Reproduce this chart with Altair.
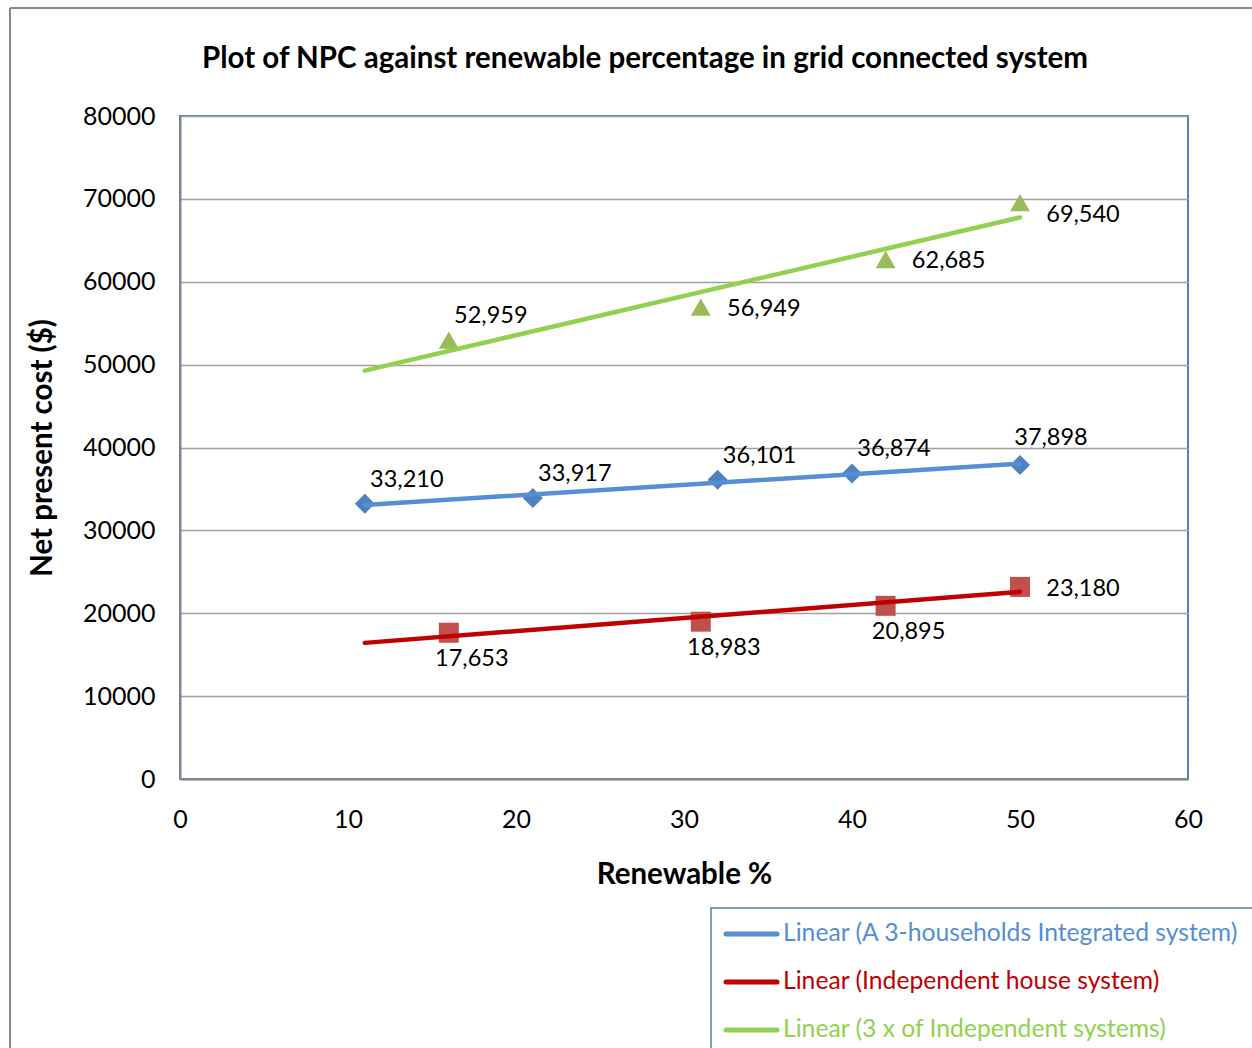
import altair as alt
import pandas as pd

# ---------------- data ----------------
series_names = [
    "A 3-households Integrated system",
    "Independent house system",
    "3 x of Independent systems",
]
integrated_x = [11, 21, 32, 40, 50]
integrated_npc = [33210, 33917, 36101, 36874, 37898]
independent_x = [16, 31, 42, 50]
independent_npc = [17653, 18983, 20895, 23180]
triple_x = [16, 31, 42, 50]
triple_npc = [52959, 56949, 62685, 69540]

x_ticks = [0, 10, 20, 30, 40, 50, 60]
y_ticks = [0, 10000, 20000, 30000, 40000, 50000, 60000, 70000, 80000]
trend_extent = [11, 50]

# ---------------- style ----------------
FONT = "Lato"
marker_colors = ["#4F81BD", "#C0504D", "#9BBB59"]
trend_colors = ["#558ED5", "#C00000", "#92D050"]
marker_shapes = ["diamond", "square", "triangle-up"]
marker_sizes = [400, 400, 400]
# label placement per point (style, not data)
label_places = [
    ["ur", "ur", "ur", "ur", "up"],
    ["below", "below", "below", "right"],
    ["ur", "right", "right", "rlow"],
]
place_offsets = {
    "ur": (42, -24),
    "up": (31, -27),
    "below": (23, 26),
    "right": (63, 2),
    "rlow": (63, 12),
}

rows = []
for name, xs, ys, places in zip(
    series_names,
    [integrated_x, independent_x, triple_x],
    [integrated_npc, independent_npc, triple_npc],
    label_places,
):
    for x, y, p in zip(xs, ys, places):
        rows.append({"series": name, "renew": x, "npc": y, "place": p})
df = pd.DataFrame(rows)

W, H = 1008, 663

x_enc = alt.X(
    "renew:Q",
    scale=alt.Scale(domain=[0, 60], nice=False),
    axis=alt.Axis(
        values=x_ticks, title="Renewable %", grid=False, ticks=False,
        labelFlush=False, labelPadding=28, titleY=95, titleBaseline="middle",
    ),
)
y_enc = alt.Y(
    "npc:Q",
    scale=alt.Scale(domain=[0, 80000], nice=False),
    axis=alt.Axis(
        values=y_ticks, title="Net present cost ($)", grid=True, ticks=False,
        format="d", labelPadding=25, titleX=-138, titleBaseline="middle",
    ),
)

base = alt.Chart(df)
layers = []

# markers
for i, name in enumerate(series_names):
    layers.append(
        base.transform_filter(alt.datum.series == name)
        .mark_point(shape=marker_shapes[i], filled=True, opacity=1,
                    size=marker_sizes[i], color=marker_colors[i], strokeWidth=0)
        .encode(x=x_enc, y=y_enc)
    )

# trend lines (linear regression)
for i, name in enumerate(series_names):
    layers.append(
        base.transform_filter(alt.datum.series == name)
        .transform_regression("renew", "npc", method="linear", extent=trend_extent)
        .mark_line(color=trend_colors[i], strokeWidth=4.5, strokeCap="round")
        .encode(x="renew:Q", y="npc:Q")
    )

# data labels
for i, name in enumerate(series_names):
    for place, (ddx, ddy) in place_offsets.items():
        if place not in label_places[i]:
            continue
        layers.append(
            base.transform_filter((alt.datum.series == name) & (alt.datum.place == place))
            .mark_text(font=FONT, fontSize=23.5, color="#000000", dx=ddx, dy=ddy,
                       align="center", baseline="middle")
            .encode(x="renew:Q", y="npc:Q", text=alt.Text("npc:Q", format=",d"))
        )

one = alt.Chart(pd.DataFrame({"k": [0]}))

# outer chart border (cropped at right/bottom)
layers.append(one.mark_rule(color="#868686", strokeWidth=2).encode(
    x=alt.value(-170), y=alt.value(-108), y2=alt.value(H + 300)))
layers.append(one.mark_rule(color="#868686", strokeWidth=2).encode(
    x=alt.value(-170), x2=alt.value(W + 300), y=alt.value(-108)))

# legend box
LX, LY = 531, 792
layers.append(one.mark_rect(fill="#FFFFFF", stroke="#4F81BD", strokeWidth=1.5).encode(
    x=alt.value(LX), x2=alt.value(W + 300), y=alt.value(LY), y2=alt.value(H + 300)))
for i, name in enumerate(series_names):
    yy = LY + 26 + 48 * i
    layers.append(one.mark_rule(color=trend_colors[i], strokeWidth=5, strokeCap="round").encode(
        x=alt.value(LX + 15), x2=alt.value(LX + 66), y=alt.value(yy)))
    layers.append(one.mark_text(font=FONT, fontSize=24.7, color=trend_colors[i],
                                align="left", baseline="middle").encode(
        x=alt.value(LX + 72), y=alt.value(yy), text=alt.value(f"Linear ({name})")))

chart = alt.layer(*layers).properties(
    width=W,
    height=H,
    padding={"left": 180, "top": 116, "right": 64, "bottom": 269},
    autosize=alt.AutoSizeParams(type="none"),
    background="#FFFFFF",
    title=alt.TitleParams(
        "Plot of NPC against renewable percentage in grid connected system",
        font=FONT, fontSize=29.5, fontWeight="bold", color="#000000",
        anchor="middle", frame="group", dx=-39, offset=0, dy=67,
    ),
).configure_view(
    stroke="#4F81BD", strokeWidth=2
).configure_axis(
    labelFont=FONT, labelFontSize=25, labelColor="#000000",
    titleFont=FONT, titleFontSize=29.5, titleFontWeight="bold", titleColor="#000000",
    domainColor="#868686", domainWidth=2,
    gridColor="#A0A0A0", gridWidth=1.5,
)

chart.save("out.html", embed_options={"renderer": "svg", "actions": False})
